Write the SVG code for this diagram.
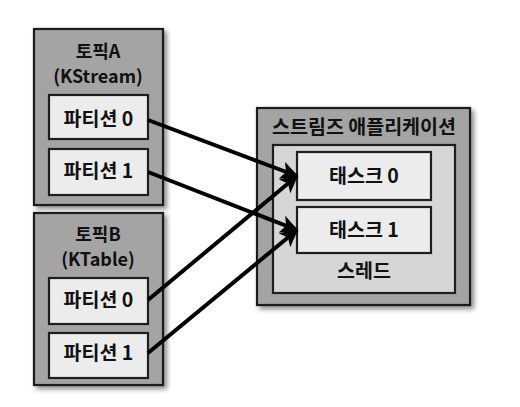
<svg xmlns="http://www.w3.org/2000/svg" width="520" height="407" viewBox="0 0 520 407">
<defs>
<filter id="sh" x="-10%" y="-10%" width="130%" height="130%">
<feDropShadow dx="3" dy="3" stdDeviation="2.5" flood-color="#000" flood-opacity="0.45"/>
</filter>
<marker id="ah" viewBox="0 0 10 10" refX="9" refY="5" markerWidth="4.5" markerHeight="4.5" orient="auto" markerUnits="strokeWidth">
<path d="M0,0 L10,5 L0,10 L2.5,5 z" fill="#000"/>
</marker>
<style>
.outer{fill:#a4a4a4;stroke:#1e1e1e;stroke-width:2.2}
.inner{fill:#d6d6d6;stroke:#1e1e1e;stroke-width:2.2}
.part{fill:#ececec;stroke:#1e1e1e;stroke-width:2.2}
text{font-family:"Noto Sans CJK KR","Noto Sans",sans-serif;font-weight:bold;font-size:19.5px;fill:#111;text-anchor:middle}
.ttl{font-size:18px}
.conn{stroke:#000;stroke-width:4;fill:none;marker-end:url(#ah)}
</style>
</defs>
<rect width="520" height="407" fill="#fff"/>
<g id="topicA">
<rect class="outer" x="34" y="29" width="129" height="176" filter="url(#sh)"/>
<text class="ttl" x="98" y="58">토픽A</text>
<text class="ttl" x="98" y="83">(KStream)</text>
</g>
<g id="topicA-p0">
<rect class="part" x="49" y="95" width="99" height="44"/>
<text x="98.5" y="126">파티션 0</text>
</g>
<g id="topicA-p1">
<rect class="part" x="49" y="149" width="99" height="46"/>
<text x="98.5" y="178">파티션 1</text>
</g>
<g id="topicB">
<rect class="outer" x="34" y="213" width="129" height="172" filter="url(#sh)"/>
<text class="ttl" x="98" y="241">토픽B</text>
<text class="ttl" x="98" y="266">(KTable)</text>
</g>
<g id="topicB-p0">
<rect class="part" x="49" y="278" width="99" height="46"/>
<text x="98.5" y="307">파티션 0</text>
</g>
<g id="topicB-p1">
<rect class="part" x="49" y="333" width="99" height="45"/>
<text x="98.5" y="360">파티션 1</text>
</g>
<g id="app">
<rect class="outer" x="257" y="108" width="213" height="197" filter="url(#sh)"/>
<text x="364" y="134">스트림즈 애플리케이션</text>
</g>
<g id="thread">
<rect class="inner" x="273" y="145" width="182" height="148"/>
<text x="364" y="278">스레드</text>
</g>
<g id="task0">
<rect class="part" x="297" y="152" width="134" height="48"/>
<text x="364" y="183">태스크 0</text>
</g>
<g id="task1">
<rect class="part" x="297" y="207" width="134" height="46"/>
<text x="364" y="237">태스크 1</text>
</g>
<g id="connectors">
<line class="conn" x1="148" y1="120" x2="297" y2="176"/>
<line class="conn" x1="148" y1="172" x2="297" y2="230"/>
<line class="conn" x1="148" y1="300" x2="297" y2="176"/>
<line class="conn" x1="148" y1="353" x2="297" y2="230"/>
</g>
</svg>
